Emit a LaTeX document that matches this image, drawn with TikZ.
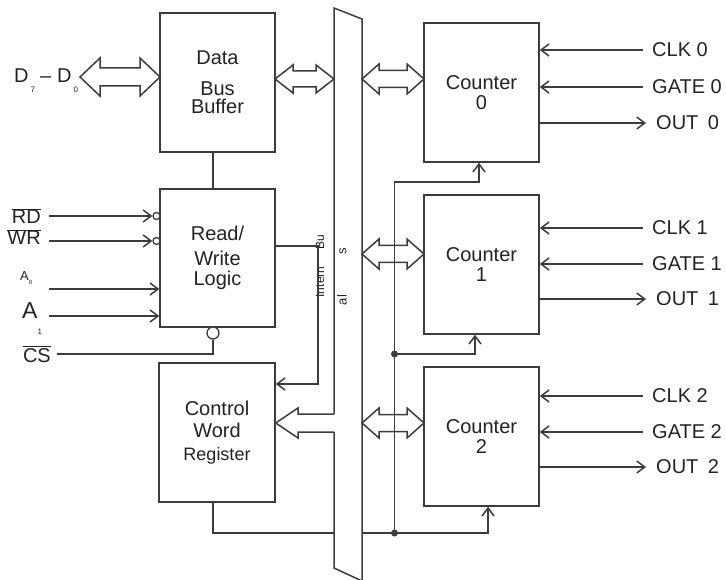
\documentclass[tikz,border=0pt]{standalone}
\usepackage{fontspec}
\setmainfont{Liberation Sans}
\usetikzlibrary{arrows.meta}
\definecolor{linegray}{RGB}{60,60,60}
\definecolor{txtgray}{RGB}{35,35,35}
\newcommand\lbl{\fontsize{20}{22}\selectfont}
\newcommand\subfont{\fontsize{8}{8}\selectfont}
\newcommand\ovl[1]{$\overline{\mbox{#1}}$}
% x1, x2, y, shaft half width, head half width, head length
\newcommand\dblarrow[6]{%
  \draw[wire, fill=white] (#1,#3) -- ({#1+#6},{#3-#5}) -- ({#1+#6},{#3-#4}) -- ({#2-#6},{#3-#4})
    -- ({#2-#6},{#3-#5}) -- (#2,#3) -- ({#2-#6},{#3+#5}) -- ({#2-#6},{#3+#4})
    -- ({#1+#6},{#3+#4}) -- ({#1+#6},{#3+#5}) -- cycle;}
\tikzset{
  wire/.style={draw=linegray, line width=1.5pt},
  blk/.style={draw=linegray, line width=1.5pt, fill=white, minimum width=115pt,
    minimum height=139pt, align=center, font=\lbl, text=txtgray, inner sep=0pt},
  sig/.style={font=\lbl, text=txtgray, inner sep=0pt},
  bub/.style={circle, draw=linegray, line width=1.3pt, fill=white, inner sep=0pt, minimum size=7pt},
  frag/.style={font=\fontsize{12}{12}\selectfont, text=txtgray, inner sep=0pt, rotate=90},
  >={Straight Barb[length=8pt,width=12pt]}
}

\begin{document}
\begin{tikzpicture}[x=1pt, y=-1pt]
  \useasboundingbox (0,0) rectangle (726,580);

  % Internal bus
  \coordinate (bTL) at (334,8);
  \coordinate (bTR) at (362,19);
  \coordinate (bBL) at (334,568);
  \draw[wire] (334,414) -- (bTL) -- (bTR) -- (362,582);
  \draw[wire] (334,432) -- (bBL) -- (362,581);
  \node[frag] (fragbu) at (320,242) {Bu};
  \node[frag] (fragint) at (320,282) {Intern};
  \node[frag, font=\fontsize{13}{13}\selectfont] (frags) at (343,251) {s};
  \node[frag, font=\fontsize{13}{13}\selectfont] (fragal) at (342,300) {al};

  % Blocks
  \node[blk] (dbb) at (217.5,82.5) {Data\\[9pt]Bus\\[-4pt]Buffer};
  \node[blk, minimum height=138pt] (rwl) at (217.5,258) {Read/\\[3pt]Write\\[-2pt]Logic};
  \node[blk, minimum width=116pt] (cwr) at (217,432.5) {Control\\Word\\[1pt]{\fontsize{18}{22}\selectfont Register}};
  \node[blk] (c0) at (481.5,92.5) {Counter\\[-2pt]0};
  \node[blk] (c1) at (481.5,264.5) {Counter\\[-2pt]1};
  \node[blk] (c2) at (481.5,436.5) {Counter\\[-2pt]2};

  % Data lines
  \node[sig, anchor=base west] (dlbl) at (14,83) {D\hspace{2pt}\raisebox{-10pt}{\subfont 7}\hspace{5pt}--\hspace{6pt}D\hspace{2pt}\raisebox{-10pt}{\subfont 0}};
  \dblarrow{80}{160}{77}{9}{19}{20}
  \dblarrow{275}{334}{79}{8}{14}{18}
  \dblarrow{362}{424}{79}{8.5}{15}{17}
  \dblarrow{362}{424}{254}{8.5}{15}{17}
  \dblarrow{362}{424}{423}{8.5}{15}{17}
  \draw[wire, fill=white] (334,414) -- (298,414) -- (298,408) -- (cwr.east |- 0,423)
    -- (298,438) -- (298,432) -- (334,432);

  % Control inputs
  \node[sig, anchor=base east] (rd) at (41,224) {\ovl{RD}};
  \node[sig, anchor=base east] (wr) at (41,245) {\ovl{WR}};
  \node[sig, anchor=base west, font=\fontsize{13}{13}\selectfont] (a0) at (20,280) {A\raisebox{-4pt}{\fontsize{6}{6}\selectfont 0}};
  \node[sig, anchor=base west] (a1) at (22,318) {{\fontsize{23}{23}\selectfont A}\raisebox{-17pt}{\subfont 1}};
  \node[sig, anchor=base east] (cs) at (51,362) {\ovl{CS}};
  \coordinate (rdin) at (49,216);
  \coordinate (wrin) at (49,241);
  \coordinate (a0in) at (49,289);
  \coordinate (a1in) at (49,316);
  \coordinate (csin) at (57,354);
  \node[bub] (rdb) at (156.5,216) {};
  \node[bub] (wrb) at (156.5,241) {};
  \node[bub, minimum size=12pt] (csb) at (213,333) {};
  \draw[wire, ->] (rdin) -- (rdb.west);
  \draw[wire, ->] (wrin) -- (wrb.west);
  \draw[wire, ->] (a0in) -- (rwl.west |- a0in);
  \draw[wire, ->] (a1in) -- (rwl.west |- a1in);
  \draw[wire] (csin) -| (csb.south);

  % Internal connections
  \draw[wire] ([xshift=-4.5pt]dbb.south) -- ([xshift=-4.5pt]rwl.north);
  \draw[wire, ->] ([yshift=12pt]rwl.east) -- ++(42,0) |- ([yshift=48.5pt]cwr.east);
  \coordinate (jtop) at (394.5,182);
  \coordinate (jmid) at (394.5,354);
  \coordinate (jbot) at (394.5,533);
  \draw[wire] ([xshift=-4pt]cwr.south) |- (bBL |- jbot);
  \draw[wire, ->] (jbot) -- (jtop) -| ([xshift=-2.5pt]c0.south);
  \draw[wire, ->] (jmid) -| ([xshift=-6.5pt]c1.south);
  \draw[wire, ->] (bTR |- jbot) -| ([xshift=6.5pt]c2.south);
  \fill[linegray] (jmid) circle (3.5pt);
  \fill[linegray] (jbot) circle (3.5pt);

  % Counter signals
  \foreach \n/\yc/\yg/\yo in {0/50/87/123, 1/228/264/299, 2/396/432/467}{
    \node[sig, anchor=west] (clk\n) at (652,\yc) {CLK \n};
    \node[sig, anchor=west] (gate\n) at (652,\yg) {GATE \n};
    \node[sig, anchor=west] (out\n) at (656,\yo) {OUT\hspace{4pt} \n};
    \draw[wire, <-] (c\n.east |- clk\n) -- ([xshift=-9pt]clk\n.west);
    \draw[wire, <-] (c\n.east |- gate\n) -- ([xshift=-9pt]gate\n.west);
    \draw[wire, ->] (c\n.east |- out\n) -- ([xshift=-10pt]out\n.west);
  }
\end{tikzpicture}
\end{document}
